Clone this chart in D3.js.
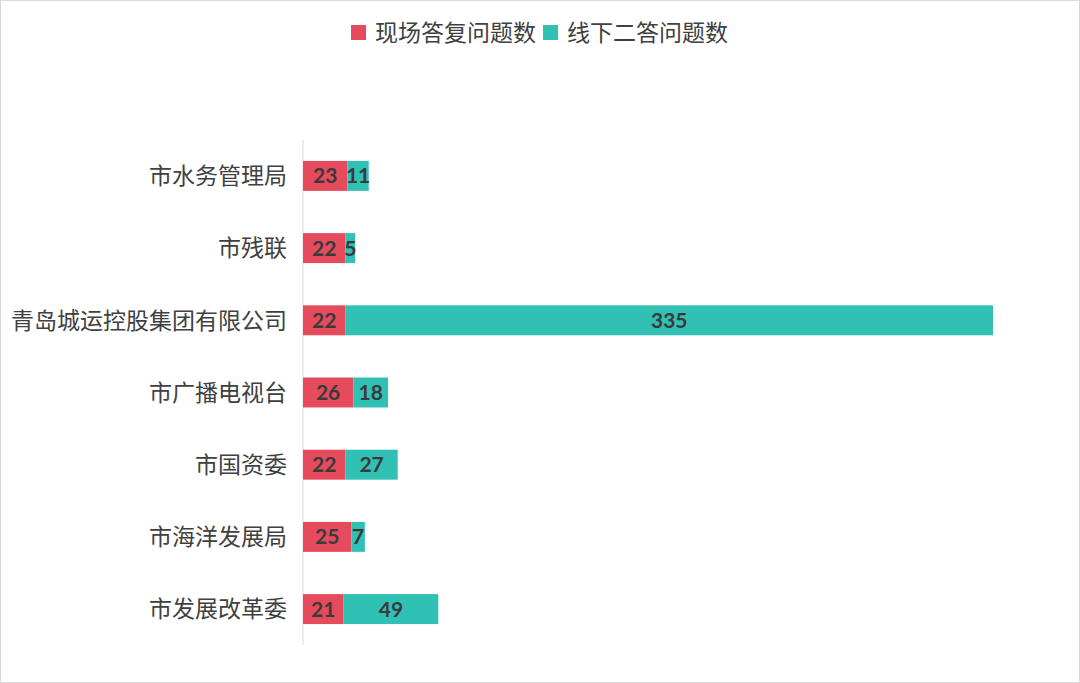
<!DOCTYPE html>
<html><head><meta charset="utf-8">
<script src="https://cdn.jsdelivr.net/npm/d3@7"></script>
<style>body{margin:0;background:#fff;}svg{display:block;}</style>
</head><body>
<svg id="c" width="1080" height="683"></svg>
<script>
const categories = ["市水务管理局","市残联","青岛城运控股集团有限公司","市广播电视台","市国资委","市海洋发展局","市发展改革委"];
const onsite = [23,22,22,26,22,25,21];
const offline = [11,5,335,18,27,7,49];
const seriesNames = ["现场答复问题数","线下二答问题数"];
const colors = ["#E64B5D","#30C0B4"];

(function(){
const svg = d3.select("#c");
const W=1080,H=683;
svg.append("rect").attr("x",0.5).attr("y",0.5).attr("width",W-1).attr("height",H-1).attr("fill","#fff").attr("stroke","#d9d9d9");
const font = "'Noto Sans CJK SC', sans-serif";
const pLeft=303, pTop=140, pBottom=645;
const x = d3.scaleLinear().domain([0,357]).range([pLeft,993]);
const y = d3.scaleBand().domain(categories).range([pTop,pBottom]).paddingInner(0.585).paddingOuter(0.29);

svg.append("line").attr("x1",pLeft).attr("x2",pLeft).attr("y1",pTop).attr("y2",pBottom).attr("stroke","#d9d9d9").attr("stroke-width",1);

const data = categories.map((c,i)=>({c, a:onsite[i], b:offline[i]}));
const g = svg.append("g");
data.forEach(d=>{
  const segs=[{x0:0,x1:d.a,v:d.a,col:colors[0]},{x0:d.a,x1:d.a+d.b,v:d.b,col:colors[1]}];
  segs.forEach(s=>{
    g.append("rect").attr("x",x(s.x0)).attr("y",y(d.c)).attr("width",x(s.x1)-x(s.x0)).attr("height",y.bandwidth()).attr("fill",s.col);
    g.append("text").attr("x",(x(s.x0)+x(s.x1))/2).attr("y",y(d.c)+y.bandwidth()/2).attr("dy","0.36em")
      .attr("text-anchor","middle").attr("font-family","Lato, 'Noto Sans', sans-serif").attr("font-weight","bold").attr("font-size",21).attr("fill","#3a3a3a").text(s.v);
  });
  svg.append("text").attr("x",pLeft-16).attr("y",y(d.c)+y.bandwidth()/2).attr("dy","0.36em").attr("text-anchor","end")
    .attr("font-family",font).attr("font-size",23).attr("fill","#404040").text(d.c);
});

const leg=[{x:351,t:seriesNames[0],c:colors[0]},{x:543,t:seriesNames[1],c:colors[1]}];
leg.forEach(l=>{
  svg.append("rect").attr("x",l.x).attr("y",25).attr("width",15).attr("height",15).attr("fill",l.c);
  svg.append("text").attr("x",l.x+24).attr("y",33).attr("dy","0.36em").attr("font-family",font).attr("font-size",23).attr("fill","#404040").text(l.t);
});
})();
</script>
</body></html>
